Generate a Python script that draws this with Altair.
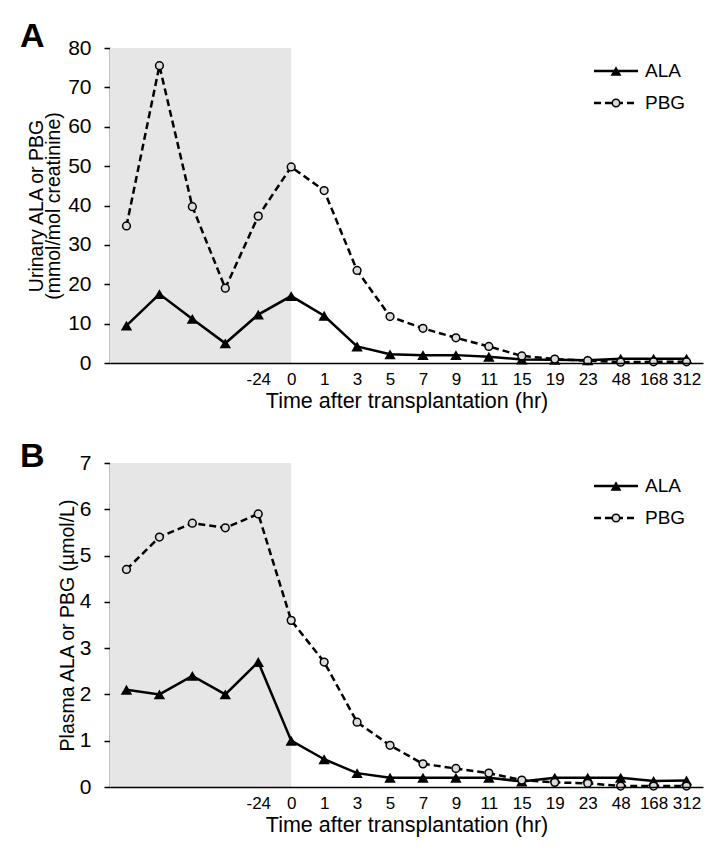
import altair as alt
import pandas as pd

# time points (first four are pre-transplant, unlabeled on the axis)
times = ["pre1", "pre2", "pre3", "pre4", "-24", "0", "1", "3", "5", "7", "9",
         "11", "15", "19", "23", "48", "168", "312"]

# Panel A: urinary (mmol/mol creatinine)
urine_ala = [9.5, 17.5, 11.2, 5.0, 12.3, 17.0, 12.0, 4.2, 2.2, 2.0, 2.0, 1.6,
             0.9, 0.8, 0.7, 1.1, 1.1, 1.1]
urine_pbg = [34.8, 75.5, 39.7, 19.0, 37.3, 49.8, 43.8, 23.5, 11.8, 8.8, 6.4,
             4.2, 1.8, 1.0, 0.6, 0.2, 0.3, 0.3]

# Panel B: plasma (umol/L)
plasma_ala = [2.1, 2.0, 2.4, 2.0, 2.7, 1.0, 0.6, 0.3, 0.2, 0.2, 0.2, 0.2,
              0.12, 0.2, 0.2, 0.2, 0.13, 0.14]
plasma_pbg = [4.7, 5.4, 5.7, 5.6, 5.9, 3.6, 2.7, 1.4, 0.9, 0.5, 0.4, 0.3,
              0.15, 0.1, 0.08, 0.02, 0.02, 0.02]

series_names = ["ALA", "PBG"]

FONT = "Liberation Sans"
W = 593


def long_df(ala, pbg):
    rows = []
    for i, (t, a, p) in enumerate(zip(times, ala, pbg)):
        rows.append({"i": i, "t": t, "series": "ALA", "v": a})
        rows.append({"i": i, "t": t, "series": "PBG", "v": p})
    return pd.DataFrame(rows)


def panel(ala, pbg, ymax, ystep, ytitle, letter, H, letter_y, tpad):
    df = long_df(ala, pbg)
    xscale = alt.Scale(type="point", domain=times, padding=0.5)
    xaxis = alt.Axis(
        title="Time after transplantation (hr)",
        labelExpr="indexof(datum.label, 'pre') == 0 ? '' : datum.label",
        ticks=False, labelPadding=8, labelFontSize=17, labelAngle=0,
        titleFontSize=21.5, titleFontWeight="normal", titlePadding=3,
        domainColor="black", domainWidth=1.5,
    )
    yscale = alt.Scale(domain=[0, ymax], nice=False)
    yaxis = alt.Axis(
        title=ytitle, values=[k * ystep for k in range(int(round(ymax / ystep)) + 1)],
        labelFontSize=21, tickSize=6, tickWidth=1.5, labelPadding=13,
        domainColor="black", domainWidth=1.5, titleFontSize=19.5,
        titleFontWeight="normal", titleLineHeight=17, titlePadding=tpad,
    )
    x = alt.X("t:N", scale=xscale, axis=xaxis, sort=times)
    y = alt.Y("v:Q", scale=yscale, axis=yaxis)

    shade = alt.Chart(pd.DataFrame({"end": ["0"]})).mark_rect(color="#e6e6e6").encode(
        x=alt.X("end:N", scale=xscale, axis=xaxis, sort=times),
        x2=alt.value(0), y=alt.value(0), y2=alt.value(H),
    )
    base = alt.Chart(df).encode(x=x, y=y, order=alt.Order("i:Q"))
    ala_line = base.transform_filter(alt.datum.series == "ALA").mark_line(
        color="black", strokeWidth=2.5)
    pbg_line = base.transform_filter(alt.datum.series == "PBG").mark_line(
        color="black", strokeWidth=2.5, strokeDash=[7, 4])
    ala_pts = base.transform_filter(alt.datum.series == "ALA").mark_point(
        shape="triangle-up", filled=True, color="black", size=130, opacity=1)
    pbg_pts = base.transform_filter(alt.datum.series == "PBG").mark_point(
        shape="circle", filled=True, fill="#dcdcdc", stroke="black",
        strokeWidth=1.5, size=60, opacity=1)

    # legend
    ly = [23, 55]
    leg = []
    for name, yy in zip(series_names, ly):
        d = pd.DataFrame({"s": [name]})
        if name == "ALA":
            leg.append(alt.Chart(d).mark_rule(color="black", strokeWidth=2.5).encode(
                x=alt.value(484), x2=alt.value(528), y=alt.value(yy)))
            leg.append(alt.Chart(d).mark_point(shape="triangle-up", filled=True,
                                               color="black", size=120, opacity=1).encode(
                x=alt.value(506), y=alt.value(yy)))
        else:
            leg.append(alt.Chart(d).mark_rule(color="black", strokeWidth=2.5,
                                              strokeDash=[7, 4]).encode(
                x=alt.value(484), x2=alt.value(528), y=alt.value(yy)))
            leg.append(alt.Chart(d).mark_point(shape="circle", filled=True, fill="#dcdcdc",
                                               stroke="black", strokeWidth=1.5, size=55,
                                               opacity=1).encode(
                x=alt.value(506), y=alt.value(yy)))
        leg.append(alt.Chart(d).mark_text(align="left", baseline="middle", fontSize=19,
                                          color="black").encode(
            x=alt.value(535), y=alt.value(yy), text="s:N"))

    lab = alt.Chart(pd.DataFrame({"s": [letter]})).mark_text(
        align="left", baseline="top", fontSize=34, fontWeight="bold", color="black"
    ).encode(x=alt.value(-90), y=alt.value(letter_y), text="s:N")

    return alt.layer(shade, ala_line, pbg_line, ala_pts, pbg_pts, *leg, lab).properties(
        width=W, height=H)


chart_a = panel(urine_ala, urine_pbg, 80, 10,
                ["Urinary ALA or PBG", "(mmol/mol creatinine)"], "A", 315, -28.5, 4)
chart_b = panel(plasma_ala, plasma_pbg, 7, 1,
                "Plasma ALA or PBG (\u00b5mol/L)", "B", 324, -23.5, 2)

chart = alt.vconcat(chart_a, chart_b, spacing=100, bounds="flush").properties(
    padding={"left": 12, "top": 11, "right": 5, "bottom": 5}
).configure_view(stroke=None).configure_axis(
    grid=False, labelFont=FONT, titleFont=FONT, labelColor="black",
    titleColor="black", tickColor="black", domainColor="black"
).configure_text(font=FONT)

chart.save("out.html", embed_options={"renderer": "svg", "actions": False})
